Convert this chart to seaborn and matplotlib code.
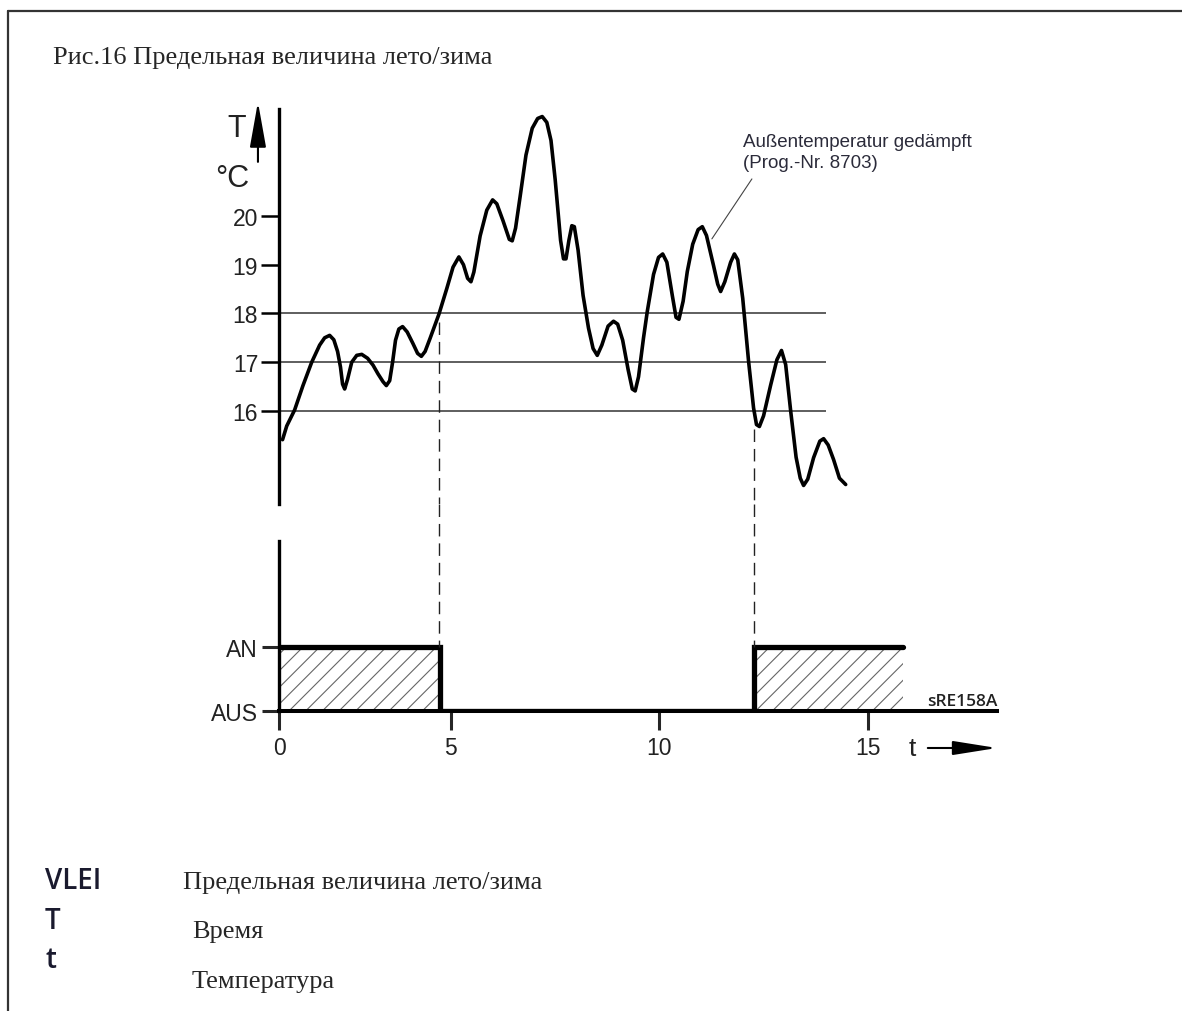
import numpy as np
import pandas as pd
import matplotlib
matplotlib.use("Agg")
import matplotlib.pyplot as plt
from matplotlib.lines import Line2D
import seaborn as sns

# damped outdoor temperature (t, degC)
curve_t = [0.96, 1.06, 1.25, 1.45, 1.66, 1.85, 1.97, 2.09, 2.19, 2.28, 2.35, 2.40, 2.45, 2.52,
           2.62, 2.74, 2.86, 3.00, 3.13, 3.25, 3.37, 3.45, 3.53, 3.60, 3.67, 3.75, 3.84, 3.95,
           4.09, 4.20, 4.29, 4.38, 4.50, 4.71, 4.90, 5.05, 5.19, 5.30, 5.40, 5.48, 5.55, 5.70,
           5.86, 6.00, 6.10, 6.25, 6.40, 6.47, 6.55, 6.66, 6.80, 6.95, 7.08, 7.19, 7.30, 7.40,
           7.50, 7.57, 7.63, 7.70, 7.76, 7.83, 7.90, 7.96, 8.05, 8.17, 8.30, 8.41, 8.51, 8.62,
           8.77, 8.90, 9.00, 9.12, 9.25, 9.35, 9.42, 9.50, 9.62, 9.71, 9.86, 9.98, 10.08, 10.18,
           10.31, 10.40, 10.47, 10.57, 10.67, 10.80, 10.93, 11.03, 11.13, 11.30, 11.40, 11.47,
           11.57, 11.71, 11.80, 11.88, 12.00, 12.14, 12.26, 12.33, 12.40, 12.50, 12.67, 12.82,
           12.93, 13.03, 13.15, 13.28, 13.38, 13.46, 13.56, 13.70, 13.85, 13.94, 14.05, 14.18,
           14.32, 14.47]
curve_T = [15.41, 15.69, 16.02, 16.52, 17.00, 17.35, 17.50, 17.55, 17.46, 17.22, 16.90, 16.55,
           16.45, 16.65, 17.00, 17.14, 17.16, 17.08, 16.94, 16.76, 16.60, 16.52, 16.62, 17.00,
           17.45, 17.68, 17.73, 17.62, 17.38, 17.18, 17.12, 17.22, 17.49, 17.98, 18.51, 18.95,
           19.16, 19.00, 18.72, 18.65, 18.85, 19.59, 20.12, 20.33, 20.25, 19.90, 19.52, 19.49,
           19.75, 20.40, 21.25, 21.80, 22.00, 22.04, 21.92, 21.55, 20.75, 20.08, 19.50, 19.12,
           19.12, 19.50, 19.80, 19.78, 19.30, 18.37, 17.70, 17.28, 17.14, 17.35, 17.74, 17.84,
           17.78, 17.45, 16.85, 16.45, 16.41, 16.70, 17.50, 18.04, 18.80, 19.15, 19.22, 19.05,
           18.37, 17.92, 17.88, 18.25, 18.86, 19.42, 19.72, 19.78, 19.60, 18.98, 18.60, 18.45,
           18.65, 19.05, 19.22, 19.10, 18.31, 17.02, 16.06, 15.72, 15.68, 15.90, 16.53, 17.05,
           17.24, 16.95, 16.00, 15.05, 14.62, 14.47, 14.60, 15.04, 15.38, 15.43, 15.30, 15.00,
           14.62, 14.49]

limit_levels = [16, 17, 18]
temp_ticks = [16, 17, 18, 19, 20]

# summer/winter switch: AN = 1, AUS = 0
switch_t = [0.875, 4.74, 12.28, 15.84]
switch_state = [1, 0, 1, 1]
cross_t = [4.72, 12.27]
cross_T = [17.83, 15.63]

time_tick_pos = [0.875, 5, 10, 15]
time_tick_labels = ["0", "5", "10", "15"]

W, H = 1182, 1012
sns.set_style("white")
plt.rcParams["font.family"] = ["Liberation Sans", "DejaVu Sans"]
plt.rcParams["hatch.linewidth"] = 0.8
plt.rcParams["hatch.color"] = "#666666"

fig = plt.figure(figsize=(W / 100, H / 100), dpi=100)

def px_box(x0, x1, y0, y1):
    return [x0 / W, 1 - y1 / H, (x1 - x0) / W, (y1 - y0) / H]

XMIN, XMAX = 0.875, 18.1
ax_top = fig.add_axes(px_box(279, 997, 100, 505))
ax_bot = fig.add_axes(px_box(279, 997, 505, 712))
for ax in (ax_top, ax_bot):
    ax.set_xlim(XMIN, XMAX)
    ax.set_facecolor("none")
    for s in ("top", "right"):
        ax.spines[s].set_visible(False)

# ---- top chart: temperature
ax_top.set_ylim(14.09, 22.4)
ax_top.spines["bottom"].set_visible(False)
ax_top.spines["left"].set_linewidth(2.4)
ax_top.spines["left"].set_color("black")
ax_top.spines["left"].set_bounds(14.09, 22.2)
ax_top.set_xticks([])
ax_top.set_yticks(temp_ticks)
ax_top.set_yticklabels([str(v) for v in temp_ticks])
ax_top.tick_params(axis="y", left=True, direction="out", length=13, width=1.8, pad=2,
                   labelsize=16.5, colors="black", labelcolor="#222222")

ax_top.hlines(limit_levels, XMIN, 14.0, color="#333333", lw=1.1)
df_curve = pd.DataFrame({"t": curve_t, "T": curve_T})
sns.lineplot(data=df_curve, x="t", y="T", ax=ax_top, color="black", lw=2.6,
             estimator=None, sort=False, solid_joinstyle="round", solid_capstyle="round")
for ct, cT in zip(cross_t, cross_T):
    ax_top.plot([ct, ct], [cT, 14.09], color="#222222", lw=1.0, dashes=(9, 5))

ax_top.annotate("", xy=(0.37, 22.34), xytext=(0.37, 21.11), annotation_clip=False,
                arrowprops=dict(arrowstyle="-|>,head_length=2.8,head_width=0.5",
                                mutation_scale=10, lw=1.5, color="black",
                                shrinkA=0, shrinkB=0))
ax_top.text(-0.15, 21.8, "T", fontsize=22, ha="center", va="center", color="#222222")
ax_top.text(-0.25, 20.77, "°C", fontsize=22, ha="center", va="center", color="#222222")

ax_top.text(12.0, 21.44, "Außentemperatur gedämpft", fontsize=13.5, color="#2b2b3a",
            ha="left", va="baseline")
ax_top.text(12.0, 21.0, "(Prog.-Nr. 8703)", fontsize=13.5, color="#2b2b3a",
            ha="left", va="baseline")
ax_top.plot([12.22, 11.26], [20.76, 19.53], color="#444444", lw=0.8)
ax_top.set_xlabel("")
ax_top.set_ylabel("")

# ---- bottom chart: switch state
ax_bot.set_ylim(0, 3.234)
ax_bot.spines["left"].set_linewidth(2.4)
ax_bot.spines["left"].set_color("black")
ax_bot.spines["left"].set_bounds(0, 2.656)
ax_bot.spines["bottom"].set_linewidth(2.9)
ax_bot.spines["bottom"].set_color("black")
ax_bot.set_yticks([0, 1])
ax_bot.set_yticklabels(["AUS", "AN"])
ax_bot.set_xticks(time_tick_pos)
ax_bot.set_xticklabels(time_tick_labels)
ax_bot.tick_params(axis="y", left=True, direction="out", length=12, width=2.2, pad=3,
                   labelsize=16.5, labelcolor="#222222")
ax_bot.tick_params(axis="x", bottom=True, direction="out", length=14, width=2.2, pad=4,
                   labelsize=16.5, labelcolor="#222222")

on_spans = [(switch_t[0], switch_t[1]), (switch_t[2], switch_t[3])]
for a, b in on_spans:
    ax_bot.fill_between([a, b], 0, 0.97, facecolor="none", edgecolor="#666666",
                        hatch="//", lw=0)
df_sw = pd.DataFrame({"t": switch_t, "state": switch_state})
sns.lineplot(data=df_sw, x="t", y="state", ax=ax_bot, color="black", lw=3.8,
             drawstyle="steps-post", estimator=None, sort=False,
             solid_joinstyle="miter", solid_capstyle="round")
for ct in cross_t:
    ax_bot.plot([ct, ct], [3.234, 1], color="#222222", lw=1.0, dashes=(9, 5))

ax_bot.text(XMAX, 0.094, "sRE158A", fontsize=12.5, ha="right", va="baseline", color="#222222",
            family=["Open Sans", "DejaVu Sans"], fontweight="semibold")
ax_bot.text(16.06, -0.58, "t", fontsize=19, ha="center", va="center", color="#222222")
ax_bot.annotate("", xy=(XMAX, -0.578), xytext=(16.44, -0.578), annotation_clip=False,
                arrowprops=dict(arrowstyle="-|>,head_length=2.7,head_width=0.43",
                                mutation_scale=10, lw=1.5, color="black",
                                shrinkA=0, shrinkB=0))
ax_bot.set_xlabel("")
ax_bot.set_ylabel("")

# ---- frame, title and legend
fig.add_artist(Line2D([8 / W, 8 / W], [0, 1 - 12 / H], transform=fig.transFigure,
                      color="#333333", lw=1.6))
fig.add_artist(Line2D([8 / W, 1], [1 - 12 / H, 1 - 12 / H], transform=fig.transFigure,
                      color="#333333", lw=1.6))

serif = ["Liberation Serif", "DejaVu Serif"]
fig.text(53 / W, 1 - 64 / H, "Рис.16 Предельная величина лето/зима", fontsize=19,
         family=serif, va="baseline", ha="left")

legend_keys = ["VLEI", "T", "t"]
legend_key_y = [889, 929, 968]
legend_text = ["Предельная величина лето/зима", "Время", "Температура"]
legend_text_x = [183, 192, 192]
legend_text_y = [889, 938, 988]
for k, y in zip(legend_keys, legend_key_y):
    fig.text(45 / W, 1 - y / H, k, fontsize=20, family=["Open Sans", "DejaVu Sans"],
             fontweight="semibold", va="baseline", ha="left", color="#1a1a2e")
for s, x, y in zip(legend_text, legend_text_x, legend_text_y):
    fig.text(x / W, 1 - y / H, s, fontsize=19, family=serif, va="baseline", ha="left")

fig.savefig("out.png", dpi=100, facecolor="white")
